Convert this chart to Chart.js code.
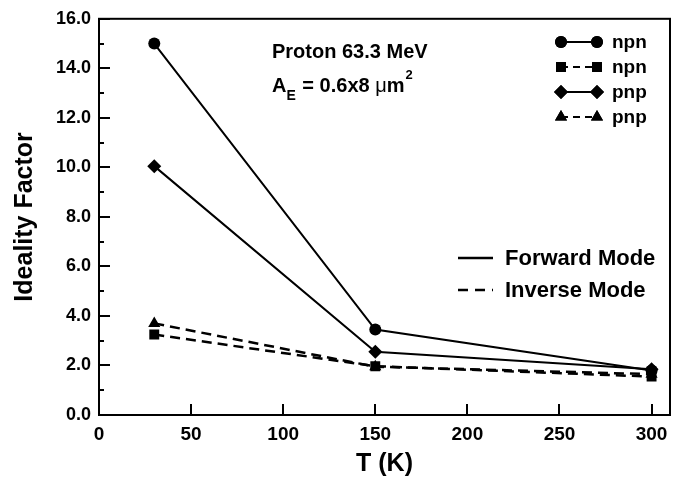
<!DOCTYPE html>
<html>
<head>
<meta charset="utf-8">
<script src="https://cdn.jsdelivr.net/npm/chart.js@4.4.1/dist/chart.umd.min.js"></script>
<style>
  html, body { margin: 0; padding: 0; background: #fff; }
  #wrap { width: 680px; height: 482px; }
</style>
</head>
<body>
<div id="wrap"><canvas id="grafico" width="680" height="482"></canvas></div>
<script>
// Dados
const temperaturas = [30, 150, 300];
const npnForward = [15.0, 3.45, 1.8];
const npnInverse = [3.25, 1.97, 1.55];
const pnpForward = [10.05, 2.55, 1.85];
const pnpInverse = [3.7, 1.95, 1.65];

const xTicks = [0, 50, 100, 150, 200, 250, 300];
const yTicks = [0, 2, 4, 6, 8, 10, 12, 14, 16];

const seriesLabels = ["npn", "npn", "pnp", "pnp"];
const modeLabels = ["Forward Mode", "Inverse Mode"];
const annotation1 = "Proton 63.3 MeV";

const FONT = "'Liberation Sans', Arial, Helvetica, sans-serif";
const DASH = [10, 6];

function toPoints(ys) {
    return temperaturas.map((t, i) => ({ x: t, y: ys[i] }));
}

function makeDataset(label, ys, pointStyle, dashed, radius) {
    return {
        label: label,
        data: toPoints(ys),
        showLine: true,
        borderColor: "#000",
        backgroundColor: "#000",
        borderWidth: dashed ? 2.5 : 2,
        borderDash: dashed ? DASH : [],
        pointStyle: pointStyle,
        pointRadius: radius,
        pointBorderWidth: 0,
        pointBackgroundColor: "#000",
        tension: 0,
    };
}

const datasets = [
    makeDataset("npn forward", npnForward, "circle", false, 6),
    makeDataset("npn inverse", npnInverse, "rect", true, 7),
    makeDataset("pnp forward", pnpForward, "rectRot", false, 7),
    makeDataset("pnp inverse", pnpInverse, "triangle", true, 7),
];

// marcador simples (caso helpers não exista)
function drawMarker(ctx, style, radius, x, y) {
    if (Chart.helpers && Chart.helpers.drawPoint) {
        ctx.fillStyle = "#000";
        ctx.strokeStyle = "#000";
        ctx.lineWidth = 0;
        Chart.helpers.drawPoint(ctx, { pointStyle: style, radius: radius, borderWidth: 0, rotation: 0 }, x, y);
        ctx.fill();
        return;
    }
    ctx.beginPath();
    ctx.arc(x, y, radius, 0, Math.PI * 2);
    ctx.fill();
}

const decoracoes = {
    id: "decoracoes",
    afterDraw(chart) {
        const ctx = chart.ctx;
        const area = chart.chartArea;
        const xs = chart.scales.x;
        const ys = chart.scales.y;
        ctx.save();

        // moldura
        ctx.strokeStyle = "#000";
        ctx.lineWidth = 2;
        ctx.setLineDash([]);
        ctx.strokeRect(area.left, area.top, area.right - area.left, area.bottom - area.top);

        // ticks para dentro
        ctx.beginPath();
        xTicks.forEach((v) => {
            const px = Math.round(xs.getPixelForValue(v));
            ctx.moveTo(px, area.bottom);
            ctx.lineTo(px, area.bottom - 11);
        });
        for (let v = 0; v <= 16; v++) {
            const py = Math.round(ys.getPixelForValue(v));
            const len = v % 2 === 0 ? 11 : 5;
            ctx.moveTo(area.left, py);
            ctx.lineTo(area.left + len, py);
        }
        ctx.stroke();

        // legenda das séries
        ctx.font = "bold 19px " + FONT;
        ctx.textBaseline = "middle";
        ctx.textAlign = "left";
        const rowsY = [42, 67, 92, 117];
        const x1 = 561, x2 = 597;
        datasets.forEach((ds, i) => {
            const y = rowsY[i];
            ctx.lineWidth = 2;
            ctx.setLineDash(i % 2 === 1 ? [7, 5] : []);
            ctx.beginPath();
            ctx.moveTo(x1, y);
            ctx.lineTo(x2, y);
            ctx.stroke();
            ctx.setLineDash([]);
            drawMarker(ctx, ds.pointStyle, ds.pointRadius, x1, y);
            drawMarker(ctx, ds.pointStyle, ds.pointRadius, x2, y);
            ctx.fillStyle = "#000";
            ctx.fillText(seriesLabels[i], 612, y + 1);
        });

        // legenda dos modos
        ctx.font = "bold 22px " + FONT;
        const modeY = [258, 290];
        modeLabels.forEach((txt, i) => {
            ctx.lineWidth = 2.5;
            ctx.setLineDash(i === 0 ? [] : [10, 7]);
            ctx.beginPath();
            ctx.moveTo(458, modeY[i]);
            ctx.lineTo(493, modeY[i]);
            ctx.stroke();
            ctx.setLineDash([]);
            ctx.fillText(txt, 505, modeY[i] + 1);
        });

        // anotação
        ctx.font = "bold 20px " + FONT;
        ctx.fillText(annotation1, 272, 52);
        let x = 272;
        const y = 86;
        ctx.fillText("A", x, y);
        x += ctx.measureText("A").width;
        ctx.font = "bold 14px " + FONT;
        ctx.fillText("E", x, y + 10);
        x += ctx.measureText("E").width + 1;
        ctx.font = "bold 20px " + FONT;
        const meio = " = 0.6x8 ";
        ctx.fillText(meio, x, y);
        x += ctx.measureText(meio).width;
        ctx.font = "20px " + FONT;
        ctx.fillText("\u03bc", x, y);
        x += ctx.measureText("\u03bc").width;
        ctx.font = "bold 20px " + FONT;
        ctx.fillText("m", x, y);
        x += ctx.measureText("m").width + 1;
        ctx.font = "bold 13px " + FONT;
        ctx.fillText("2", x, y - 11);

        ctx.restore();
    },
};

const ctx = document.getElementById("grafico").getContext("2d");
new Chart(ctx, {
    type: "scatter",
    data: { datasets: datasets },
    options: {
        responsive: false,
        animation: false,
        layout: { padding: { top: 17, right: 10, left: 0, bottom: 0 } },
        plugins: {
            legend: { display: false },
            tooltip: { enabled: false },
        },
        scales: {
            x: {
                type: "linear",
                min: 0,
                max: 310,
                afterFit: (scale) => { scale.height = 67; },
                afterBuildTicks: (scale) => { scale.ticks = xTicks.map((v) => ({ value: v })); },
                grid: { display: false, drawTicks: false },
                border: { display: false },
                ticks: {
                    padding: 8,
                    color: "#000",
                    font: { family: FONT, size: 19, weight: "bold" },
                    callback: (v) => String(v),
                },
                title: {
                    display: true,
                    text: "T (K)",
                    color: "#000",
                    font: { family: FONT, size: 25, weight: "bold" },
                    padding: { top: 0, bottom: 3 },
                },
            },
            y: {
                type: "linear",
                min: 0,
                max: 16,
                afterFit: (scale) => { scale.width = 99; },
                afterBuildTicks: (scale) => { scale.ticks = yTicks.map((v) => ({ value: v })); },
                grid: { display: false, drawTicks: false },
                border: { display: false },
                ticks: {
                    padding: 8,
                    color: "#000",
                    font: { family: FONT, size: 18, weight: "bold" },
                    callback: (v) => Number(v).toFixed(1),
                },
                title: {
                    display: true,
                    text: "Ideality Factor",
                    color: "#000",
                    font: { family: FONT, size: 25, weight: "bold" },
                    padding: { top: 10, bottom: 0 },
                },
            },
        },
    },
    plugins: [decoracoes],
});
</script>
</body>
</html>
